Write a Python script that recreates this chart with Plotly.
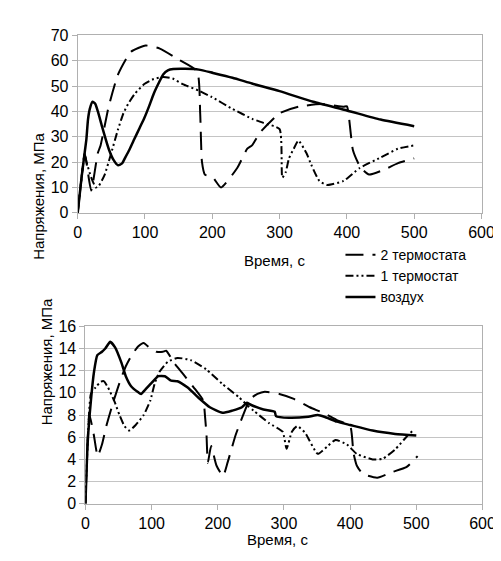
import plotly.graph_objects as go

# ---------------- data: top chart ----------------
top_air_t = [0, 5.7, 10.5, 12.9, 15.3, 18, 22, 26, 30, 36, 46, 53, 60, 66, 70, 77, 84, 92, 99, 106,
             113, 120, 127, 134, 142, 160, 180, 201, 230, 259, 300, 350, 400, 450, 500]
top_air_v = [0, 13.9, 24, 29, 36.8, 41, 43.8, 43, 40, 34.2, 25.3, 21, 18.8, 19.5, 21.5, 25, 29, 33.5, 37.4, 42,
             47, 51, 54.6, 56.2, 56.7, 56.8, 56.5, 55.2, 53.3, 51, 48, 43.8, 40.4, 36.8, 34.2]

top_t1_t = [0, 5, 10.5, 13, 20, 27, 31, 40, 49, 60, 68, 75, 85, 99, 113, 127, 141, 156, 180, 199,
            230, 260, 276, 300, 304, 309, 314, 321, 328, 340, 347, 359, 371, 395, 419, 450, 476, 500]
top_t1_v = [0, 12, 23.4, 20.2, 14, 10, 10.5, 15, 22.8, 33, 39.3, 43, 47, 50.8, 52.8, 53.6, 53, 50.8, 48.2, 45.7,
            41, 37, 35.5, 33, 13.9, 16, 21.5, 25.3, 28.5, 23.5, 19, 12.6, 11, 12.6, 17.7, 21.8, 25.3, 26.6]

top_t2_t = [0, 5, 10.5, 20, 29.7, 34, 46, 60, 79, 101, 122, 151, 177.5, 182, 184.6, 189, 201, 213, 237,
            252, 259, 271, 300, 328, 362, 395, 400, 409, 420, 433, 455, 476, 500]
top_t2_v = [0, 12, 23.4, 8.8, 23.4, 26.6, 41.9, 54.6, 63.5, 66, 64.8, 60.3, 55.8, 39.3, 20.2, 15.1, 13.9, 10, 17.7,
            25.3, 26.6, 31.7, 39.3, 41.9, 42.9, 41.9, 42, 24.7, 18, 15.1, 17, 19.6, 21.5]

# ---------------- data: bottom chart ----------------
bot_air_t = [0, 3.4, 8.3, 13, 18, 25, 30, 37.5, 44.8, 54.5, 61, 69, 78.8, 84, 90.5, 100, 110, 120, 129.5,
             139, 154, 173, 188, 207, 222, 236.5, 244, 249, 269, 286, 288, 307.5, 337, 351, 361, 380, 400,
             434, 468, 500]
bot_air_v = [0, 5.5, 9.3, 11.9, 13.4, 13.7, 14.0, 14.6, 14.1, 12.7, 11.5, 10.6, 10.1, 9.9, 10.3, 10.9, 11.5, 11.5, 11.1,
             11.05, 10.5, 9.45, 8.7, 8.2, 8.4, 8.7, 9.1, 8.95, 8.5, 8.3, 7.9, 7.75, 7.85, 8.0, 7.85, 7.4, 7.1,
             6.6, 6.3, 6.15]

bot_t1_t = [0, 3.4, 8.3, 15.6, 23, 27.7, 34, 44, 51.5, 59, 66, 76, 88, 98, 105, 112, 124.5, 139, 159, 183,
            207, 232, 246, 254, 278, 298, 304, 312, 320, 332, 351, 366, 378, 395, 410, 434, 449, 468, 487.6, 495]
bot_t1_v = [0, 5.5, 9.9, 10.5, 11.0, 11.05, 10.5, 9.2, 8, 7, 6.6, 7.1, 8, 9.3, 10.9, 11.9, 12.8, 13.15, 12.95, 12.1,
            10.8, 9.6, 8.8, 8.4, 7.25, 6.5, 4.95, 6.5, 7, 6.4, 4.5, 5.2, 5.75, 5.35, 4.5, 4, 4.05, 4.9, 6.2, 6.6]

bot_t2_t = [0, 6, 12.7, 18.5, 25, 32, 42, 51.5, 61, 71, 80, 88, 98, 107.5, 117, 122, 134, 149, 163.5, 178,
            181, 183, 185, 190, 198, 208, 215, 227, 241, 249, 260, 271, 293, 315, 339, 359, 380, 400, 405,
            410, 419, 441, 463, 485, 502]
bot_t2_v = [0, 8, 6.2, 4.3, 5.35, 7.1, 9.15, 10.9, 12.4, 13.5, 14.2, 14.5, 14, 13.7, 13.7, 13.8, 12.7, 11.6, 10.5, 9.3,
            7.7, 6.2, 3.7, 5.2, 3.45, 2.5, 3.75, 6.2, 8.4, 9.45, 9.9, 10.1, 9.9, 9.45, 8.7, 8.2, 7.55, 7, 4.6,
            3.45, 2.7, 2.35, 2.85, 3.3, 4.3]

names = ["2 термостата", "1 термостат", "воздух"]
x_ticks = [0, 100, 200, 300, 400, 500, 600]

FONT = "Liberation Sans, Arial, sans-serif"
GRID = "#c4c4c4"
AXL = "#b0b0b0"

dash2 = "18px,9px"
dash1 = "8px,3px,2px,3px,2px,3px"
SM = 0.5

fig = go.Figure()

def add_set(t2, v2, t1, v1, ta, va, xa, ya, show):
    fig.add_trace(go.Scatter(x=t2, y=v2, mode="lines", name=names[0], showlegend=show,
                             line=dict(color="black", width=2, dash=dash2, shape="spline", smoothing=SM),
                             xaxis=xa, yaxis=ya))
    fig.add_trace(go.Scatter(x=t1, y=v1, mode="lines", name=names[1], showlegend=show,
                             line=dict(color="black", width=2, dash=dash1, shape="spline", smoothing=SM),
                             xaxis=xa, yaxis=ya))
    fig.add_trace(go.Scatter(x=ta, y=va, mode="lines", name=names[2], showlegend=show,
                             line=dict(color="black", width=2.5, shape="spline", smoothing=SM),
                             xaxis=xa, yaxis=ya))

add_set(top_t2_t, top_t2_v, top_t1_t, top_t1_v, top_air_t, top_air_v, "x", "y", True)
add_set(bot_t2_t, bot_t2_v, bot_t1_t, bot_t1_v, bot_air_t, bot_air_v, "x2", "y2", False)

W, H = 501, 561

def ax_common():
    return dict(showline=True, linecolor=AXL, linewidth=1, mirror=True, ticks="outside",
                ticklen=5, tickcolor=AXL, tickfont=dict(family=FONT, size=16, color="black"),
                zeroline=False)

xa = ax_common()
xa.update(domain=[68 / W, 486 / W], range=[0, 600], tickvals=x_ticks, showgrid=False, anchor="y")
ya = ax_common()
ya.update(domain=[1 - 203 / H, 1 - 20 / H], range=[0, 70], dtick=10, showgrid=True, gridcolor=GRID,
          anchor="x")
xb = ax_common()
xb.update(domain=[76 / W, 487 / W], range=[0, 600], tickvals=x_ticks, showgrid=False, anchor="y2")
yb = ax_common()
yb.update(domain=[1 - 503 / H, 1 - 320 / H], range=[0, 16], dtick=2, showgrid=True, gridcolor=GRID,
          anchor="x2")

fig.update_layout(
    width=W, height=H, margin=dict(l=0, r=0, t=0, b=0),
    paper_bgcolor="white", plot_bgcolor="white",
    font=dict(family=FONT, size=15, color="black"),
    xaxis=xa, yaxis=ya, xaxis2=xb, yaxis2=yb,
    showlegend=True,
    legend=dict(x=340 / W, y=1 - 230 / H, xanchor="left", yanchor="top",
                bgcolor="rgba(0,0,0,0)", font=dict(family=FONT, size=14, color="black"),
                tracegroupgap=0, itemwidth=30),
    annotations=[
        dict(text="Время, с", x=272 / W, y=1 - 252 / H, xref="paper", yref="paper",
             showarrow=False, font=dict(family=FONT, size=15)),
        dict(text="Время, с", x=275 / W, y=1 - 551 / H, xref="paper", yref="paper",
             showarrow=False, font=dict(family=FONT, size=15)),
        dict(text="Напряжения, МПа", x=17 / W, y=1 - 118 / H, xref="paper", yref="paper",
             showarrow=False, textangle=-90, font=dict(family=FONT, size=15)),
        dict(text="Напряжения, МПа", x=25 / W, y=1 - 424 / H, xref="paper", yref="paper",
             showarrow=False, textangle=-90, font=dict(family=FONT, size=15)),
    ],
)

fig.write_html("out.html")
